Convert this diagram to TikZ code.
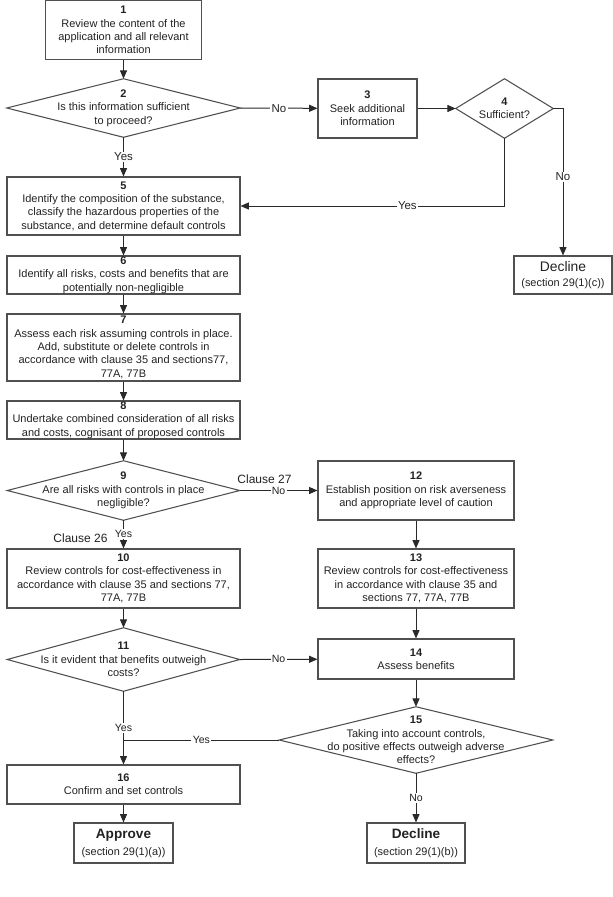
\documentclass[tikz,border=0pt]{standalone}
\usepackage{fontspec}
\setmainfont{Liberation Sans}
\usetikzlibrary{arrows.meta}
\newdimen\pxu \pxu=0.75pt
\definecolor{txt}{HTML}{222222}
\definecolor{brd}{HTML}{505050}
\definecolor{lnc}{HTML}{2A2A2A}
\tikzset{
  base/.style={inner sep=0pt, align=center, text=txt, font=\fontsize{8.25pt}{10pt}\selectfont},
  sz/.style 2 args={minimum width=#1\pxu, minimum height=#2\pxu},
  box/.style={base, rectangle, draw=brd, line width=0.8pt},
  dia/.style={base, rectangle},
  diaborder/.style={draw=brd, line width=0.8pt, line join=miter},
  conn/.style={draw=lnc, line width=0.75pt, -{Triangle[length=6.2pt,width=5.2pt]}},
  plainline/.style={draw=lnc, line width=0.75pt},
  lab/.style={fill=white, inner sep=1pt, text=txt, font=\fontsize{7.9pt}{9pt}\selectfont},
  toplab/.style={lab, font=\fontsize{8.6pt}{10pt}\selectfont},
  clause/.style={text=txt, inner sep=0pt, font=\fontsize{9pt}{10pt}\selectfont},
}
\begin{document}
\begin{tikzpicture}[x=0.75pt, y=-0.75pt]
\useasboundingbox (0,0) rectangle (613,897);

% left column
\node[box, sz={156}{59}] (n1) at (123.5,30) {\textbf{1}\\Review the content of the\\application and all relevant\\information};
\node[dia, sz={233}{58}] (n2) at (123.5,108) {\textbf{2}\\Is this information sufficient\\to proceed?};
\node[box, sz={99}{59}] (n3) at (367.5,108.5) {\textbf{3}\\Seek additional\\information};
\node[dia, sz={97}{59}] (n4) at (504.5,108.5) {\textbf{4}\\Sufficient?};
\node[box, sz={98}{38}, font=\fontsize{8.2pt}{11.25pt}\selectfont] (d1) at (563,275) {{\fontsize{10.4pt}{11.25pt}\selectfont Decline}\\(section 29(1)(c))};
\node[box, sz={233}{58}] (n5) at (123.5,206) {\textbf{5}\\Identify the composition of the substance,\\classify the hazardous properties of the\\substance, and determine default controls};
\node[box, sz={233}{38}] (n6) at (123.5,275) {\textbf{6}\\Identify all risks, costs and benefits that are\\potentially non-negligible};
\node[box, sz={233}{67}] (n7) at (123.5,347.5) {\textbf{7}\\Assess each risk assuming controls in place.\\Add, substitute or delete controls in\\accordance with clause 35 and sections77,\\77A, 77B};
\node[box, sz={233}{38}] (n8) at (123.5,420) {\textbf{8}\\Undertake combined consideration of all risks\\and costs, cognisant of proposed controls};
\node[dia, sz={232}{59}] (n9) at (123.5,490.5) {\textbf{9}\\Are all risks with controls in place\\negligible?};
\node[box, sz={233}{59}] (n10) at (123.5,578.5) {\textbf{10}\\Review controls for cost-effectiveness in\\accordance with clause 35 and sections 77,\\77A, 77B};
\node[dia, sz={232}{63}] (n11) at (123.5,659.5) {\textbf{11}\\Is it evident that benefits outweigh\\costs?};
\node[box, sz={233}{39}] (n16) at (123.5,784.5) {\textbf{16}\\Confirm and set controls};
\node[box, sz={99}{40}, font=\fontsize{8.2pt}{12.75pt}\selectfont] (ap) at (123.5,843) {{\fontsize{10.2pt}{12.75pt}\selectfont\bfseries Approve}\\(section 29(1)(a))};

% right column
\node[box, sz={196}{59}] (n12) at (416,490.5) {\textbf{12}\\Establish position on risk averseness\\and appropriate level of caution};
\node[box, sz={196}{59}] (n13) at (416,578.5) {\textbf{13}\\Review controls for cost-effectiveness\\in accordance with clause 35 and\\sections 77, 77A, 77B};
\node[box, sz={196}{40}] (n14) at (416,659) {\textbf{14}\\Assess benefits};
\node[dia, sz={273}{66}] (n15) at (416,740) {\textbf{15}\\Taking into account controls,\\do positive effects outweigh adverse\\effects?};
\node[box, sz={98}{40}, font=\fontsize{8.2pt}{12.75pt}\selectfont] (d2) at (416,843) {{\fontsize{10.2pt}{12.75pt}\selectfont\bfseries Decline}\\(section 29(1)(b))};

% diamond outlines
\foreach \n in {n2,n4,n9,n11,n15}
  \draw[diaborder] (\n.west) -- (\n.north) -- (\n.east) -- (\n.south) -- cycle;

% clause labels
\node[clause] (c27) at (264.5,479) {Clause 27};
\node[clause] (c26) at (80.5,538) {Clause 26};

% connectors
\draw[conn] (n1) -- (n2.north);
\draw[conn] (n2.east) -- node[toplab] {No} (n3);
\draw[conn] (n3) -- (n4.west);
\draw[conn] (n4.east) -| node[toplab, pos=0.733] {No} (d1.north);
\draw[conn] (n4.south) |- node[toplab, pos=0.684] {Yes} (n5.east);
\draw[conn] (n2.south) -- node[toplab] {Yes} (n5.north);
\draw[conn] (n5) -- (n6);
\draw[conn] (n6) -- (n7);
\draw[conn] (n7) -- (n8);
\draw[conn] (n8) -- (n9.north);
\draw[conn] (n9.east) -- node[lab] {No} (n12);
\draw[conn] (n9.south) -- node[lab] {Yes} (n10);
\draw[conn] (n12) -- (n13);
\draw[conn] (n13) -- (n14);
\draw[conn] (n10) -- (n11.north);
\draw[conn] (n11.east) -- node[lab] {No} (n14);
\draw[conn] (n14) -- (n15.north);
\coordinate (j) at (n11.south |- n15.west);
\draw[conn] (n11.south) -- node[lab] {Yes} (n16);
\draw[plainline] (n15.west) -- node[lab] {Yes} (j);
\draw[conn] (n15.south) -- node[lab] {No} (d2);
\draw[conn] (n16) -- (ap);
\end{tikzpicture}
\end{document}
